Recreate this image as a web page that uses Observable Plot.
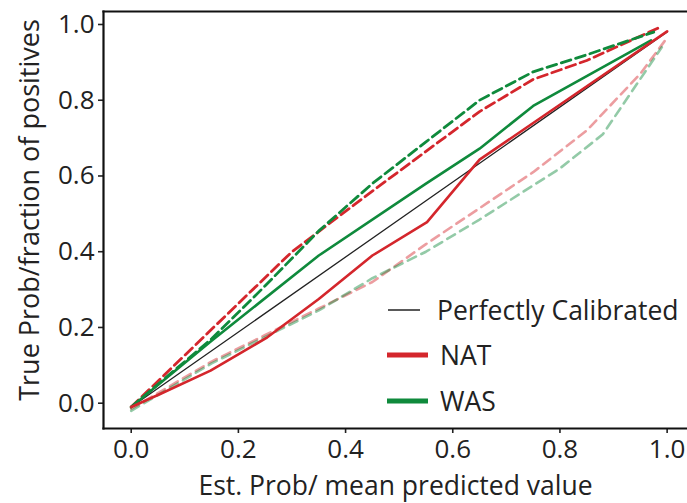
<!DOCTYPE html>
<html><head><meta charset="utf-8">
<script src="https://cdn.jsdelivr.net/npm/d3@7"></script>
<script src="https://cdn.jsdelivr.net/npm/@observablehq/plot@0.6"></script>
<style>
body{margin:0;background:#fff;}
#wrap{position:relative;width:687px;height:503px;overflow:hidden;font-family:"Open Sans",sans-serif;color:#222;}
.leg{position:absolute;display:flex;align-items:center;font-size:26.5px;line-height:1;}
</style></head><body>
<div id="wrap"></div>
<script>
// Tick values
const xTicks = [0, 0.2, 0.4, 0.6, 0.8, 1.0];
const yTicks = [0, 0.2, 0.4, 0.6, 0.8, 1.0];

// Perfectly calibrated reference line
const perfectX = [0, 1];
const perfectY = [-0.01, 0.98];

// NAT (solid)
const natX = [0, 0.055, 0.148, 0.254, 0.35, 0.45, 0.552, 0.65, 1.0];
const natY = [-0.01, 0.025, 0.086, 0.174, 0.275, 0.39, 0.478, 0.643, 0.982];

// WAS (solid)
const wasX = [0, 0.15, 0.35, 0.55, 0.65, 0.75, 0.97];
const wasY = [-0.01, 0.165, 0.39, 0.58, 0.672, 0.785, 0.958];

// NAT dashed (dark)
const natDashX = [0, 0.15, 0.3, 0.45, 0.55, 0.65, 0.75, 0.85, 0.987];
const natDashY = [-0.01, 0.195, 0.40, 0.56, 0.665, 0.77, 0.855, 0.905, 0.993];

// WAS dashed (dark)
const wasDashX = [0, 0.15, 0.25, 0.35, 0.45, 0.55, 0.65, 0.75, 0.85, 0.975];
const wasDashY = [-0.01, 0.17, 0.31, 0.455, 0.58, 0.69, 0.80, 0.875, 0.92, 0.98];

// NAT dashed (light)
const natLightX = [0, 0.15, 0.25, 0.35, 0.45, 0.55, 0.65, 0.75, 0.85, 0.95, 1.0];
const natLightY = [-0.015, 0.11, 0.18, 0.25, 0.32, 0.42, 0.515, 0.61, 0.72, 0.87, 0.965];

// WAS dashed (light)
const wasLightX = [0, 0.15, 0.25, 0.35, 0.45, 0.55, 0.65, 0.75, 0.8, 0.88, 0.99];
const wasLightY = [-0.02, 0.105, 0.175, 0.245, 0.33, 0.40, 0.485, 0.575, 0.62, 0.71, 0.94];

const RED = "#d4262c", GREEN = "#0f8a3c";
const toRows = (xs, ys) => xs.map((x, i) => ({x, y: ys[i]}));

const plot = Plot.plot({
  width: 687, height: 503,
  marginLeft: 103, marginRight: 0, marginTop: 11, marginBottom: 75,
  x: {domain: [-0.0517, 1.038]},
  y: {domain: [-0.0668, 1.0343]},
  style: {fontFamily: "Open Sans", fontSize: "26px", color: "#222", background: "#fff"},
  marks: [
    Plot.line(toRows(natLightX, natLightY), {x: "x", y: "y", stroke: RED, strokeOpacity: 0.45, strokeWidth: 2.6, strokeDasharray: "9,6"}),
    Plot.line(toRows(wasLightX, wasLightY), {x: "x", y: "y", stroke: GREEN, strokeOpacity: 0.45, strokeWidth: 2.6, strokeDasharray: "9,6"}),
    Plot.line(toRows(natDashX, natDashY), {x: "x", y: "y", stroke: RED, strokeWidth: 2.8, strokeDasharray: "10,5"}),
    Plot.line(toRows(wasDashX, wasDashY), {x: "x", y: "y", stroke: GREEN, strokeWidth: 2.8, strokeDasharray: "10,5"}),
    Plot.line(toRows(perfectX, perfectY), {x: "x", y: "y", stroke: "#222", strokeWidth: 1.3}),
    Plot.line(toRows(wasX, wasY), {x: "x", y: "y", stroke: GREEN, strokeWidth: 2.6}),
    Plot.line(toRows(natX, natY), {x: "x", y: "y", stroke: RED, strokeWidth: 2.6}),
    Plot.axisX(xTicks, {tickSize: 5, tickPadding: 6, tickFormat: d3.format(".1f"), fontSize: 26, strokeWidth: 1.6, label: null}),
    Plot.axisY(yTicks, {tickSize: 5, tickPadding: 4, tickFormat: d3.format(".1f"), fontSize: 26, strokeWidth: 1.6, label: null}),
    Plot.frame({anchor: "left", stroke: "#111", strokeWidth: 2.2}),
    Plot.frame({anchor: "top", stroke: "#111", strokeWidth: 2.2}),
    Plot.frame({anchor: "bottom", stroke: "#111", strokeWidth: 2.2}),
    Plot.text(["Est. Prob/ mean predicted value"], {frameAnchor: "bottom", lineAnchor: "middle", dy: 58, fontSize: 26.5, fill: "#222"}),
    Plot.text(["True Prob/fraction of positives"], {frameAnchor: "left", textAnchor: "middle", lineAnchor: "middle", rotate: -90, dx: -73, dy: -10, fontSize: 27, fill: "#222"})
  ]
});
const wrap = document.getElementById("wrap");
wrap.appendChild(plot);

const legendItems = [
  {label: "Perfectly Calibrated", color: "#222", w: 1.5, top: 297, left: 388, len: 32, gap: 17},
  {label: "NAT", color: RED, w: 5, top: 342, left: 387, len: 41, gap: 12},
  {label: "WAS", color: GREEN, w: 5, top: 388, left: 387, len: 41, gap: 12}
];
legendItems.forEach(d => {
  const div = document.createElement("div");
  div.className = "leg";
  div.style.left = d.left + "px";
  div.style.top = d.top + "px";
  div.innerHTML = `<svg width="${d.len + d.gap}" height="26"><line x1="0" x2="${d.len}" y1="13" y2="13" stroke="${d.color}" stroke-width="${d.w}"/></svg><span>${d.label}</span>`;
  wrap.appendChild(div);
});
</script>
</body></html>
